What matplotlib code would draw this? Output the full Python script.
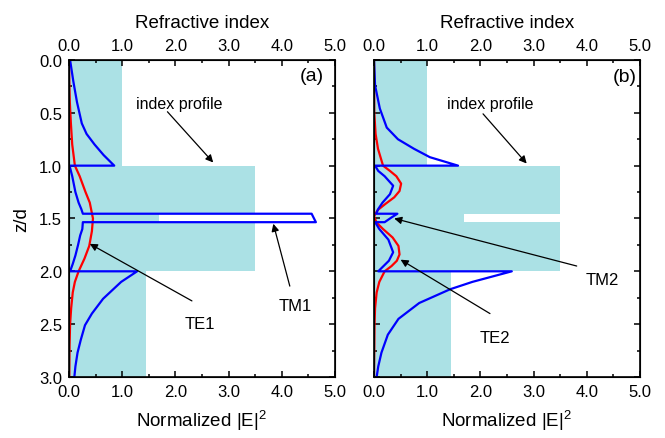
import matplotlib
matplotlib.use("Agg")
import matplotlib.pyplot as plt
from matplotlib.ticker import MultipleLocator, FormatStrFormatter
import numpy as np

plt.rcParams["font.family"] = ["Liberation Sans", "DejaVu Sans"]
plt.rcParams["mathtext.fontset"] = "custom"
plt.rcParams["mathtext.rm"] = "Liberation Sans"

# layer structure (z/d) and refractive index
layer_edges = [0.0, 1.0, 1.455, 1.535, 2.0, 3.0]
layer_index = [1.0, 3.5, 1.7, 3.5, 1.45]

# panel (a): TM1 |E|^2, pieces joined at the interfaces
tm1_z = [0.0, 0.2, 0.4, 0.6, 0.7, 0.8, 0.9, 1.0,
         1.0, 1.1, 1.25, 1.35, 1.41, 1.455,
         1.455, 1.535,
         1.535, 1.6, 1.66, 1.75, 1.85, 1.93, 2.0,
         2.0, 2.1, 2.26, 2.4, 2.51, 2.65, 2.77, 2.9, 3.0]
tm1_e = [0.02, 0.08, 0.15, 0.24, 0.33, 0.48, 0.65, 0.85,
         0.01, 0.06, 0.12, 0.18, 0.23, 0.26,
         4.56, 4.64,
         0.26, 0.25, 0.21, 0.17, 0.12, 0.07, 0.02,
         1.28, 0.98, 0.64, 0.43, 0.30, 0.22, 0.16, 0.12, 0.10]

# panel (a): TE1 |E|^2
te1_z = [0.0, 0.2, 0.4, 0.6, 0.8, 1.0, 1.1, 1.25, 1.35, 1.5, 1.62, 1.76, 1.88,
         2.0, 2.1, 2.2, 2.35, 2.5, 2.7, 3.0]
te1_e = [0.0, 0.005, 0.015, 0.035, 0.06, 0.11, 0.2, 0.31, 0.39, 0.45, 0.43, 0.38, 0.29,
         0.18, 0.11, 0.07, 0.04, 0.02, 0.01, 0.005]

# panel (b): TM2 |E|^2
tm2_z = [0.0, 0.24, 0.46, 0.64, 0.75, 0.84, 0.92, 1.0,
         1.0, 1.05, 1.1, 1.19, 1.27, 1.35, 1.41, 1.455,
         1.455, 1.49, 1.535,
         1.535, 1.6, 1.7, 1.82, 1.9, 1.95, 2.0,
         2.0, 2.1, 2.17, 2.3, 2.45, 2.6, 2.77, 2.9, 3.0]
tm2_e = [0.0, 0.02, 0.11, 0.24, 0.45, 0.75, 1.05, 1.58,
         0.02, 0.08, 0.2, 0.36, 0.3, 0.16, 0.08, 0.04,
         0.44, 0.33, 0.2,
         0.02, 0.1, 0.27, 0.36, 0.28, 0.18, 0.08,
         2.59, 1.85, 1.43, 0.85, 0.46, 0.26, 0.14, 0.08, 0.05]

# panel (b): TE2 |E|^2
te2_z = [0.0, 0.5, 0.7, 0.84, 1.0, 1.05, 1.1, 1.17, 1.24, 1.3, 1.36, 1.42, 1.48,
         1.54, 1.6, 1.68, 1.76, 1.84, 1.9, 1.95, 2.0, 2.1, 2.2, 2.35, 2.5, 3.0]
te2_e = [0.0, 0.005, 0.03, 0.075, 0.17, 0.3, 0.42, 0.51, 0.48, 0.38, 0.22, 0.07, 0.0,
         0.05, 0.17, 0.35, 0.46, 0.48, 0.43, 0.33, 0.2, 0.1, 0.05, 0.02, 0.01, 0.0]

cyan = "#ABE1E5"


def index_steps():
    z = np.repeat(layer_edges, 2)[1:-1]
    n = np.repeat(layer_index, 2)
    return z, n


def style_axes(ax, show_y):
    ax.set_xlim(0, 5)
    ax.set_ylim(3, 0)
    ax.xaxis.set_major_locator(MultipleLocator(1))
    ax.xaxis.set_minor_locator(MultipleLocator(0.5))
    ax.yaxis.set_major_locator(MultipleLocator(0.5))
    ax.yaxis.set_minor_locator(MultipleLocator(0.25))
    ax.xaxis.set_major_formatter(FormatStrFormatter("%.1f"))
    ax.yaxis.set_major_formatter(FormatStrFormatter("%.1f"))
    ax.tick_params(which="both", direction="in", right=True, labelsize=12, width=1.1)
    ax.tick_params(which="major", length=4.5, pad=5)
    ax.tick_params(which="minor", length=2.5)
    ax.tick_params(axis="y", labelleft=show_y)
    for s in ax.spines.values():
        s.set_linewidth(1.2)
    ax.set_xlabel(r"Normalized |E|$^\mathregular{2}$", fontsize=13.5, labelpad=6)

    top = ax.twiny()
    top.set_xlim(0, 5)
    top.xaxis.set_major_locator(MultipleLocator(1))
    top.xaxis.set_minor_locator(MultipleLocator(0.5))
    top.xaxis.set_major_formatter(FormatStrFormatter("%.1f"))
    top.tick_params(which="both", direction="in", labelsize=12, width=1.1)
    top.tick_params(which="major", length=4.5, pad=5)
    top.tick_params(which="minor", length=2.5)
    top.set_xlabel("Refractive index", fontsize=13.5, labelpad=8)


def arrow(ax, start, tip):
    ax.annotate("", xy=tip, xytext=start,
                arrowprops=dict(arrowstyle="-|>", color="black", lw=0.9,
                                mutation_scale=11, shrinkA=0, shrinkB=0))


fig = plt.figure(figsize=(6.65, 4.39), dpi=100)
ax_a = fig.add_axes([0.1038, 0.139, 0.4, 0.7221])
ax_b = fig.add_axes([0.5624, 0.139, 0.4, 0.7221])

pz, pn = index_steps()
for ax in (ax_a, ax_b):
    ax.fill_betweenx(pz, 0, pn, color=cyan, lw=0)

ax_a.plot(te1_e, te1_z, color="red", lw=1.6)
ax_a.plot(tm1_e, tm1_z, color="blue", lw=1.6)
ax_b.plot(te2_e, te2_z, color="red", lw=1.6)
ax_b.plot(tm2_e, tm2_z, color="blue", lw=1.6)

style_axes(ax_a, True)
style_axes(ax_b, False)
ax_a.set_ylabel("z/d", fontsize=13.5, labelpad=6)

# panel (a) annotations
ax_a.text(4.57, 0.15, "(a)", fontsize=14, ha="center", va="center")
ax_a.text(2.07, 0.41, "index profile", fontsize=11.5, ha="center", va="center")
arrow(ax_a, (1.85, 0.49), (2.71, 0.97))
ax_a.text(2.46, 2.49, "TE1", fontsize=12, ha="center", va="center")
arrow(ax_a, (2.31, 2.28), (0.39, 1.74))
ax_a.text(4.25, 2.32, "TM1", fontsize=12, ha="center", va="center")
arrow(ax_a, (4.15, 2.14), (3.84, 1.55))

# panel (b) annotations
ax_b.text(4.72, 0.16, "(b)", fontsize=14, ha="center", va="center")
ax_b.text(2.18, 0.41, "index profile", fontsize=11.5, ha="center", va="center")
arrow(ax_b, (2.05, 0.51), (2.87, 0.98))
ax_b.text(4.29, 2.08, "TM2", fontsize=12, ha="center", va="center")
arrow(ax_b, (3.81, 1.95), (0.38, 1.50))
ax_b.text(2.27, 2.63, "TE2", fontsize=12, ha="center", va="center")
arrow(ax_b, (2.18, 2.40), (0.5, 1.89))

fig.savefig("out.png", dpi=100)
plt.close(fig)
